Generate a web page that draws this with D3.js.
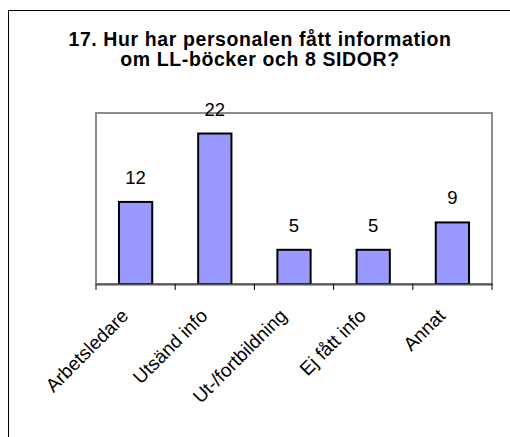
<!DOCTYPE html>
<html><head><meta charset="utf-8">
<script src="https://cdn.jsdelivr.net/npm/d3@7"></script>
<style>body{margin:0;background:#fff}svg{display:block}</style>
</head><body>
<script>
const titleLines = ["17. Hur har personalen fått information", "om LL-böcker och 8 SIDOR?"];
const categories = ["Arbetsledare", "Utsänd info", "Ut-/fortbildning", "Ej fått info", "Annat"];
const values = [12, 22, 5, 5, 9];
const yMax = 25;

const W = 510, H = 437;
const svg = d3.select("body").append("svg").attr("width", W).attr("height", H);
svg.append("rect").attr("width", W).attr("height", H).attr("fill", "#fff");

// outer chart border (top and left visible)
svg.append("path").attr("d", `M8.5,437 V10.5 H510`).attr("fill", "none").attr("stroke", "#000").attr("stroke-width", 1);

const plot = {left: 96, right: 492, top: 113, bottom: 284};
const x = d3.scaleBand().domain(categories).range([plot.left, plot.right]).paddingInner(0).paddingOuter(0);
const y = d3.scaleLinear().domain([0, yMax]).range([plot.bottom, plot.top]);

// plot frame
svg.append("rect").attr("x", plot.left).attr("y", plot.top)
  .attr("width", plot.right - plot.left).attr("height", plot.bottom - plot.top)
  .attr("fill", "none").attr("stroke", "#8c8c8c").attr("stroke-width", 2);

// title
const title = svg.append("text").attr("text-anchor", "middle")
  .attr("font-family", "Liberation Sans, Arial, sans-serif").attr("font-weight", "bold")
  .attr("font-size", 19.5).attr("letter-spacing", 0.6);
titleLines.forEach((t, i) => title.append("tspan").attr("x", 260).attr("y", 45.7 + i * 20.5).text(t));

// bars
const bw = x.bandwidth() * 0.42;
svg.selectAll("rect.bar").data(values).enter().append("rect").attr("class", "bar")
  .attr("x", (d, i) => x(categories[i]) + x.bandwidth() / 2 - bw / 2)
  .attr("y", d => y(d))
  .attr("width", bw)
  .attr("height", d => y(0) - y(d))
  .attr("fill", "#9999ff").attr("stroke", "#000").attr("stroke-width", 2);

// value labels
svg.selectAll("text.val").data(values).enter().append("text").attr("class", "val")
  .attr("x", (d, i) => x(categories[i]) + x.bandwidth() / 2)
  .attr("y", d => y(d) - 18)
  .attr("text-anchor", "middle")
  .attr("font-family", "Liberation Sans, Arial, sans-serif").attr("font-size", 18.5)
  .text(d => d);

// x axis
const axis = d3.axisBottom(x).tickSize(0).tickFormat("");
const gx = svg.append("g").attr("transform", `translate(0,${plot.bottom})`).call(axis);
gx.select(".domain").attr("stroke", "#555").attr("stroke-width", 2);
// tick marks at band boundaries
const bounds = categories.map(c => x(c)).concat([plot.right]);
gx.selectAll("line.bt").data(bounds).enter().append("line").attr("class", "bt")
  .attr("x1", d => d).attr("x2", d => d).attr("y1", 0).attr("y2", 6)
  .attr("stroke", "#000").attr("stroke-width", 1);

// category labels
svg.selectAll("text.cat").data(categories).enter().append("text").attr("class", "cat")
  .attr("transform", d => `translate(${x(d) + x.bandwidth() / 2 - 6},${plot.bottom + 33}) rotate(-45)`)
  .attr("text-anchor", "end")
  .attr("font-family", "Liberation Sans, Arial, sans-serif").attr("font-size", 19)
  .text(d => d);
</script>
</body></html>
